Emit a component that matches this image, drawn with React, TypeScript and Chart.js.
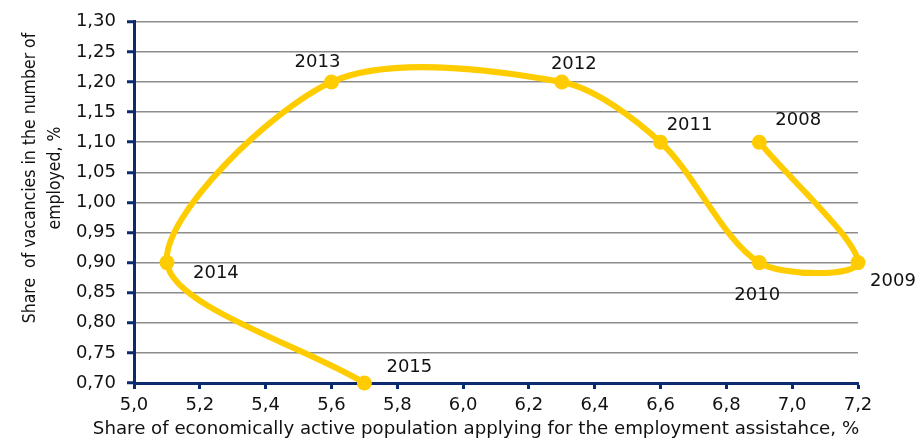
import React, { useEffect, useRef } from "react";
import { Chart, registerables } from "chart.js";

Chart.register(...registerables);

const years = ["2008", "2009", "2010", "2011", "2012", "2013", "2014", "2015"];
const unemploymentShare = [6.9, 7.2, 6.9, 6.6, 6.3, 5.6, 5.1, 5.7];
const vacancyShare = [1.1, 0.9, 0.9, 1.1, 1.2, 1.2, 0.9, 0.7];
const xTickValues = [5.0, 5.2, 5.4, 5.6, 5.8, 6.0, 6.2, 6.4, 6.6, 6.8, 7.0, 7.2];
const yTickValues = [0.7, 0.75, 0.8, 0.85, 0.9, 0.95, 1.0, 1.05, 1.1, 1.15, 1.2, 1.25, 1.3];
const xTitle = "Share of economically active population applying for the employment assistahce, %";
const yTitleLines = ["Share  of vacancies in the number of", "employed, %"];

// label placement (style): pixel offsets of label centre from its point
const labelOffsets = [
  [39, -22],
  [35, 19],
  [-2, 33],
  [29, -17],
  [12, -18],
  [-14, -20],
  [49, 11],
  [45, -16],
];

const NAVY = "#0b2b6e";
const YELLOW = "#ffcc00";
const FONT = "'DejaVu Sans', Verdana, sans-serif";

const fmt = (v: number, d: number) => v.toFixed(d).replace(".", ",");

export default function App() {
  const ref = useRef<HTMLCanvasElement | null>(null);
  useEffect(() => {
    document.body.style.margin = "0";
    const ctx = ref.current!.getContext("2d")!;
    const labelsPlugin = {
      id: "yearLabels",
      afterDatasetsDraw(chart: any) {
        const meta = chart.getDatasetMeta(0);
        const c = chart.ctx;
        c.save();
        c.font = `18px ${FONT}`;
        c.fillStyle = "#111";
        c.textAlign = "center";
        c.textBaseline = "middle";
        meta.data.forEach((pt: any, i: number) => {
          const [dx, dy] = labelOffsets[i];
          c.fillText(years[i], pt.x + dx, pt.y + dy);
        });
        c.restore();
      },
    };
    const titlesPlugin = {
      id: "axisTitles",
      afterDraw(chart: any) {
        const c = chart.ctx;
        c.save();
        c.fillStyle = "#111";
        c.textAlign = "center";
        c.textBaseline = "middle";
        c.font = `18.2px ${FONT}`;
        c.fillText(xTitle, 476, 429);
        c.translate(0, 178);
        c.rotate(-Math.PI / 2);
        c.font = `17.5px 'DejaVu Sans Condensed', ${FONT}`;
        c.fillText(yTitleLines[0], 0, 30);
        c.fillText(yTitleLines[1], 0, 55);
        c.restore();
      },
    };
    const chart = new Chart(ctx, {
      type: "scatter",
      data: {
        datasets: [
          {
            data: unemploymentShare.map((x, i) => ({ x, y: vacancyShare[i] })),
            showLine: true,
            borderColor: YELLOW,
            backgroundColor: YELLOW,
            borderWidth: 6,
            pointRadius: 7.5,
            pointBorderWidth: 0,
            tension: 0.3,
            clip: false,
          } as any,
        ],
      },
      options: {
        animation: false,
        responsive: true,
        maintainAspectRatio: false,
        layout: { padding: { top: 16, right: 58, left: 0, bottom: 0 } },
        plugins: { legend: { display: false }, tooltip: { enabled: false } },
        scales: {
          x: {
            type: "linear",
            min: 5.0,
            max: 7.2,
            afterBuildTicks: (s: any) => {
              s.ticks = xTickValues.map((v) => ({ value: v }));
            },
            afterFit: (s: any) => {
              s.height = 59;
            },
            ticks: {
              callback: (v: any) => fmt(Number(v), 1),
              font: { family: FONT, size: 18 },
              color: "#111",
              padding: 6,
              maxRotation: 0,
            },
            grid: {
              drawOnChartArea: false,
              drawTicks: true,
              tickLength: 6,
              tickColor: NAVY,
              tickWidth: 3,
            },
            border: { color: NAVY, width: 3 },
          },
          y: {
            type: "linear",
            min: 0.7,
            max: 1.3,
            afterBuildTicks: (s: any) => {
              s.ticks = yTickValues.map((v) => ({ value: v }));
            },
            afterFit: (s: any) => {
              s.width = 134;
            },
            ticks: {
              callback: (v: any) => fmt(Number(v), 2),
              font: { family: FONT, size: 18 },
              color: "#111",
              padding: 11,
            },
            grid: {
              color: "#8c8c8c",
              lineWidth: 1.5,
              tickLength: 7,
              tickColor: NAVY,
              tickWidth: 3,
            },
            border: { color: NAVY, width: 3 },
          },
        },
      },
      plugins: [labelsPlugin, titlesPlugin],
    } as any);
    return () => chart.destroy();
  }, []);
  return (
    <div style={{ position: "absolute", left: 0, top: 0, width: 916, height: 442, background: "#fff" }}>
      <canvas ref={ref} />
    </div>
  );
}
